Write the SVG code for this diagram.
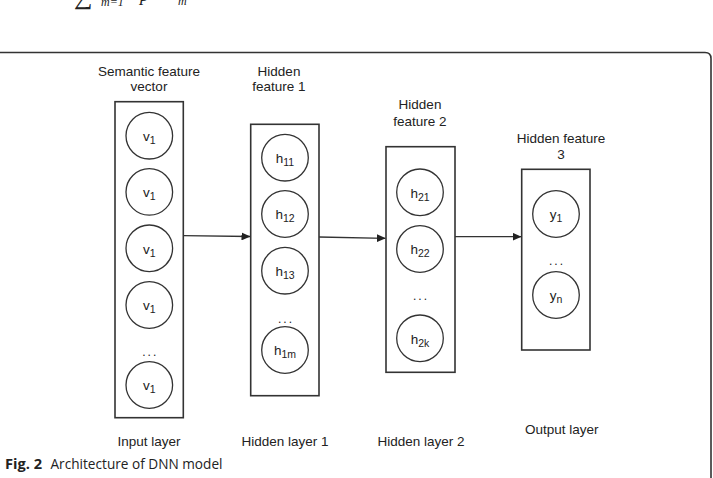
<svg xmlns="http://www.w3.org/2000/svg" width="713" height="478" viewBox="0 0 713 478">
<style>
text{font-family:"Liberation Sans",Arial,Helvetica,sans-serif;fill:#222}
.t{font-size:13.5px;text-anchor:middle}
.n{font-size:13.5px;text-anchor:middle}
.s{font-size:10.5px}
.d{font-size:12px;text-anchor:middle;letter-spacing:2px}
.box{fill:none;stroke:#333;stroke-width:1.6}
.c{fill:none;stroke:#333;stroke-width:1.3}
.e{stroke:#333;stroke-width:1.3;fill:none}
.frame{fill:none;stroke:#333;stroke-width:1.6}
.cap{font-family:"Open Sans","Noto Sans","Liberation Sans",sans-serif;font-size:15px;fill:#222}
.f{font-family:"Liberation Serif","Times New Roman",serif;fill:#222}
</style>
<defs>
<marker id="ah" markerWidth="9" markerHeight="8" refX="8.5" refY="4" orient="auto" markerUnits="userSpaceOnUse">
<path d="M0,0 L9,4 L0,8 Z" fill="#222"/>
</marker>
</defs>
<rect width="713" height="478" fill="#fff"/>
<!-- cut-off formula fragment at top -->
<text class="f" x="74" y="4" font-size="26">∑</text>
<text class="f" x="101" y="6" font-size="12" font-style="italic">m=1</text>
<text class="f" x="140" y="1" font-size="18" font-style="italic">p · ·</text>
<text class="f" x="178" y="5" font-size="12" font-style="italic">m</text>
<!-- frame -->
<path class="frame" d="M0,52.5 H705 Q711,52.5 711,58.5 V478"/>

<g id="layer-input">
<text class="t" x="149" y="76">Semantic feature</text>
<text class="t" x="149" y="91">vector</text>
<rect class="box" x="115" y="101.7" width="68.3" height="316"/>
<circle class="c" cx="149.3" cy="135.7" r="23.3"/>
<text class="n" x="149.3" y="141">v<tspan class="s" dy="3">1</tspan></text>
<circle class="c" cx="149.3" cy="191.9" r="23.3"/>
<text class="n" x="149.3" y="197.2">v<tspan class="s" dy="3">1</tspan></text>
<circle class="c" cx="149.3" cy="248.3" r="23.3"/>
<text class="n" x="149.3" y="253.6">v<tspan class="s" dy="3">1</tspan></text>
<circle class="c" cx="149.3" cy="305" r="23.3"/>
<text class="n" x="149.3" y="310.3">v<tspan class="s" dy="3">1</tspan></text>
<text class="d" x="150.3" y="356">...</text>
<circle class="c" cx="149.3" cy="385" r="23.3"/>
<text class="n" x="149.3" y="390.3">v<tspan class="s" dy="3">1</tspan></text>
<text class="t" x="149" y="446">Input layer</text>
</g>

<g id="layer-hidden1">
<text class="t" x="279" y="76">Hidden</text>
<text class="t" x="279" y="91">feature 1</text>
<rect class="box" x="250.7" y="124.3" width="68.3" height="271.4"/>
<circle class="c" cx="285" cy="157.7" r="23.3"/>
<text class="n" x="285" y="163">h<tspan class="s" dy="3">11</tspan></text>
<circle class="c" cx="285" cy="214" r="23.3"/>
<text class="n" x="285" y="219.3">h<tspan class="s" dy="3">12</tspan></text>
<circle class="c" cx="285" cy="270.7" r="23.3"/>
<text class="n" x="285" y="276">h<tspan class="s" dy="3">13</tspan></text>
<text class="d" x="286" y="322.7">...</text>
<circle class="c" cx="285" cy="350" r="23.3"/>
<text class="n" x="285" y="355.3">h<tspan class="s" dy="3">1m</tspan></text>
<text class="t" x="285" y="446">Hidden layer 1</text>
</g>

<g id="layer-hidden2">
<text class="t" x="420" y="109.3">Hidden</text>
<text class="t" x="420" y="125.7">feature 2</text>
<rect class="box" x="386" y="146.7" width="69" height="225.6"/>
<circle class="c" cx="420" cy="192.3" r="23.3"/>
<text class="n" x="420" y="197.6">h<tspan class="s" dy="3">21</tspan></text>
<circle class="c" cx="420" cy="249" r="23.3"/>
<text class="n" x="420" y="254.3">h<tspan class="s" dy="3">22</tspan></text>
<text class="d" x="421" y="300">...</text>
<circle class="c" cx="420" cy="338.3" r="23.3"/>
<text class="n" x="420" y="343.6">h<tspan class="s" dy="3">2k</tspan></text>
<text class="t" x="421" y="446">Hidden layer 2</text>
</g>

<g id="layer-output">
<text class="t" x="561" y="143.3">Hidden feature</text>
<text class="t" x="561" y="159.3">3</text>
<rect class="box" x="521.7" y="169.3" width="68.3" height="180.7"/>
<circle class="c" cx="556" cy="214" r="23.3"/>
<text class="n" x="556" y="219.3">y<tspan class="s" dy="3">1</tspan></text>
<text class="d" x="557" y="265.3">...</text>
<circle class="c" cx="556" cy="295" r="23.3"/>
<text class="n" x="556" y="300.3">y<tspan class="s" dy="3">n</tspan></text>
<text class="t" x="561.7" y="434">Output layer</text>
</g>

<g id="connectors">
<line class="e" x1="183.3" y1="235.7" x2="250" y2="236.5" marker-end="url(#ah)"/>
<line class="e" x1="319" y1="237" x2="385.3" y2="238.3" marker-end="url(#ah)"/>
<line class="e" x1="455" y1="236.7" x2="521" y2="236.7" marker-end="url(#ah)"/>
</g>

<text class="cap" x="5" y="469"><tspan font-weight="bold" textLength="37" lengthAdjust="spacingAndGlyphs">Fig. 2</tspan><tspan x="50.5" textLength="172" lengthAdjust="spacingAndGlyphs">Architecture of DNN model</tspan></text>
</svg>
